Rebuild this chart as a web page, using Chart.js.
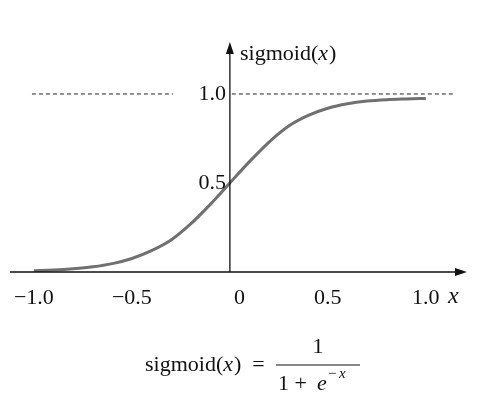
<!DOCTYPE html>
<html><head><meta charset="utf-8">
<script src="https://cdn.jsdelivr.net/npm/chart.js@4"></script>
<style>html,body{margin:0;padding:0;background:#fff}#wrap{width:493px;height:411px}</style>
</head><body><div id="wrap"><canvas id="c"></canvas></div>
<script>
const curveX = [-1.0,-0.9,-0.8,-0.7,-0.6,-0.5,-0.4,-0.3,-0.2,-0.1,0,0.1,0.2,0.3,0.4,0.5,0.6,0.7,0.8,0.9,1.0];
const curveY = [0.007,0.011,0.018,0.029,0.047,0.076,0.12,0.18,0.27,0.38,0.5,0.62,0.73,0.82,0.88,0.92,0.945,0.96,0.968,0.972,0.975];
const dashX = [-1.01,-0.29,null,0.01,1.15];
const dashY = [1,1,null,1,1];
const xTicks = [-1.0,-0.5,0,0.5,1.0];
const xTickLabels = ['\u22121.0','\u22120.5','0','0.5','1.0'];
const yTicks = [0.5,1.0];
const yTickLabels = ['0.5','1.0'];
const F = '"Liberation Serif","DejaVu Serif",serif';

const axes = {
  id:'axes',
  afterDatasetsDraw(ch){
    const c=ch.ctx, xs=ch.scales.x, ys=ch.scales.y, a=ch.chartArea;
    const x0=xs.getPixelForValue(0), y0=ys.getPixelForValue(0);
    c.save(); c.strokeStyle='#111'; c.fillStyle='#111'; c.lineWidth=1.3;
    c.beginPath(); c.moveTo(a.left,y0); c.lineTo(a.right-8,y0); c.moveTo(x0,a.bottom); c.lineTo(x0,a.top+8); c.stroke();
    c.beginPath(); c.moveTo(a.right,y0); c.lineTo(a.right-12,y0-4); c.lineTo(a.right-12,y0+4); c.fill();
    c.beginPath(); c.moveTo(x0,a.top); c.lineTo(x0-4,a.top+12); c.lineTo(x0+4,a.top+12); c.fill();
    c.font='22px '+F; c.textBaseline='middle';
    xTicks.forEach((v,i)=>{c.textAlign=v===0?'left':'center'; c.fillText(xTickLabels[i], v===0?x0+4:xs.getPixelForValue(v), y0+26);});
    c.textAlign='right';
    yTicks.forEach((v,i)=>c.fillText(yTickLabels[i], x0-4, ys.getPixelForValue(v)));
    c.textAlign='left';
    c.font='italic 24px '+F; c.fillText('x', 448, y0+25);
    c.font='22px '+F; c.fillText('sigmoid(', 240, 54);
    let w=c.measureText('sigmoid(').width;
    c.font='italic 22px '+F; c.fillText('x',240+w,54); let w2=c.measureText('x').width;
    c.font='22px '+F; c.fillText(')',240+w+w2+1,54);
    const fy=365;
    c.font='22px '+F; c.textAlign='left';
    c.fillText('sigmoid(',145,fy); w=c.measureText('sigmoid(').width;
    c.font='italic 22px '+F; c.fillText('x',145+w,fy); w2=c.measureText('x').width;
    c.font='22px '+F; c.fillText(')  =',145+w+w2+1,fy);
    c.beginPath(); c.lineWidth=1; c.moveTo(276,fy); c.lineTo(360,fy); c.stroke();
    c.textAlign='center'; c.fillText('1',318,fy-18);
    c.textAlign='left'; c.fillText('1 + ',278,fy+19);
    c.font='italic 22px '+F; c.fillText('e',317,fy+19);
    c.font='15px '+F; c.fillText('\u2212',328,fy+9);
    c.font='italic 15px '+F; c.fillText('x',339,fy+9);
    c.restore();
  }
};

new Chart(document.getElementById('c'),{
  type:'scatter',
  data:{datasets:[
    {data:curveX.map((x,i)=>({x,y:curveY[i]})),showLine:true,borderColor:'#707070',borderWidth:3,pointRadius:0,tension:0.4,cubicInterpolationMode:'monotone'},
    {data:dashX.map((x,i)=>x===null?{x:NaN,y:NaN}:{x,y:dashY[i]}),showLine:true,spanGaps:false,borderColor:'#222',borderWidth:1,borderDash:[4,3],pointRadius:0}
  ]},
  options:{responsive:true,maintainAspectRatio:false,animation:false,
    layout:{padding:{left:10,right:26,top:42,bottom:139}},
    plugins:{legend:{display:false},tooltip:{enabled:false}},
    scales:{x:{type:'linear',min:-1.122,max:1.21,display:false},y:{type:'linear',min:0,max:1.292,display:false}}},
  plugins:[axes]
});
</script></body></html>
